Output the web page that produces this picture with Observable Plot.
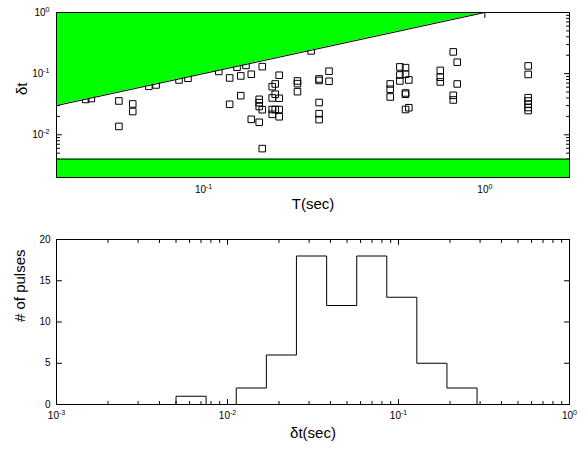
<!DOCTYPE html>
<html><head><meta charset="utf-8">
<script src="https://cdn.jsdelivr.net/npm/d3@7"></script>
<script src="https://cdn.jsdelivr.net/npm/@observablehq/plot@0.6"></script>
<style>
body{margin:0;background:#fff;font-family:"Liberation Sans",Arial,sans-serif;}
#chart{width:585px;height:454px;overflow:hidden;}
svg{display:block;}
</style></head><body><div id="chart"></div>
<script>
// ---- Data ----
// Top panel: T (sec) vs. delta-t (sec)
const pulseT = [0.0381,0.0399,0.0500,0.0560,0.0560,0.0500,0.0639,0.0678,0.0818,0.0880,
  0.1133,0.1238,0.1315,0.1356,0.1415,0.1478,0.1617,0.1238,0.1356,0.1577,
  0.1577,0.1577,0.1617,0.1478,0.1577,0.1617,0.1857,0.1798,0.1754,0.1798,
  0.1754,0.1857,0.1754,0.1798,0.1857,0.1754,0.1857,0.2157,0.2157,0.2157,
  0.2412,0.2575,0.2575,0.2793,0.2793,0.2575,0.2575,0.2575,0.4609,0.4609,
  0.4609,0.4988,0.5225,0.4988,0.5225,0.4988,0.5368,0.5225,0.5225,0.5225,
  0.5368,0.6943,0.6943,0.6943,0.7721,0.7977,0.7977,0.7721,0.7721,1.426,
  1.426,1.426,1.426,1.426,1.426,1.426];
const pulseDt = [0.0378,0.0392,0.0357,0.0319,0.0240,0.0137,0.0621,0.0653,0.0788,0.0841,
  0.1087,0.0850,0.1273,0.0917,0.1363,0.0977,0.1302,0.0315,0.0436,0.0380,
  0.0335,0.0290,0.0257,0.0179,0.0160,0.00594,0.0941,0.0678,0.0612,0.0460,
  0.0400,0.0395,0.0259,0.0259,0.0259,0.0216,0.0197,0.0759,0.0686,0.0507,
  0.2355,0.0819,0.0773,0.1095,0.0750,0.0337,0.0221,0.0177,0.0678,0.0555,
  0.0415,0.1288,0.1254,0.0952,0.0977,0.0759,0.0788,0.0483,0.0460,0.0259,
  0.0277,0.1129,0.0873,0.0731,0.2268,0.1538,0.0678,0.0442,0.0371,0.1337,
  0.0970,0.0404,0.0357,0.0315,0.0279,0.0249];
const limitT = [0.03, 1];          // excluded region above the line δt = T
const bandDt = [0.002, 0.004];     // excluded band at small δt
const topXDomain = [0.03, 2];
const topYDomain = [0.002, 1];
const topXLabels = [0.1, 1];
const topYLabels = [0.01, 0.1, 1];
const topXTitle = "T(sec)";
const topYTitle = "δt";

// Bottom panel: histogram of δt
const histEdges = [0.005, 0.0075, 0.01125, 0.016875, 0.0253, 0.038, 0.057, 0.0854, 0.128, 0.192, 0.288];
const histCounts = [1, 0, 2, 6, 18, 12, 18, 13, 5, 2];
const botXDomain = [0.001, 1];
const botYDomain = [0, 20];
const botXLabels = [0.001, 0.01, 0.1, 1];
const botYLabels = [0, 5, 10, 15, 20];
const botXTitle = "δt(sec)";
const botYTitle = "# of pulses";

// ---- helpers ----
const GREEN = "#00ff00";
const FONT = "Liberation Sans, Arial, Helvetica, sans-serif";
const tickShape = {draw(ctx, l) { ctx.moveTo(0, 0); ctx.lineTo(0, -l); }};
function minorLog(lo, hi) {
  const out = [];
  for (let e = Math.floor(Math.log10(lo)); e <= Math.ceil(Math.log10(hi)); e++)
    for (let m = 1; m <= 9; m++) { const v = m * Math.pow(10, e); if (v >= lo * 0.9999 && v <= hi * 1.0001) out.push(v); }
  return out;
}
function isMajor(v) { const l = Math.log10(v); return Math.abs(l - Math.round(l)) < 1e-6; }
function tickMarks(values, side, len) {
  const opts = {length: len, anchor: "start", shape: tickShape, stroke: "black", strokeWidth: 1};
  if (side === "bottom") return Plot.vector(values, {...opts, x: d => d, frameAnchor: "bottom", rotate: 0});
  if (side === "top") return Plot.vector(values, {...opts, x: d => d, frameAnchor: "top", rotate: 180});
  if (side === "left") return Plot.vector(values, {...opts, y: d => d, frameAnchor: "left", rotate: 90});
  return Plot.vector(values, {...opts, y: d => d, frameAnchor: "right", rotate: -90});
}
const pow10 = d => "10^" + Math.round(Math.log10(d));

function superscripts(svg) {
  d3.select(svg).selectAll("text").each(function () {
    const t = this.textContent;
    const m = /^10\^(-?\d+)$/.exec(t);
    if (!m) return;
    const sel = d3.select(this);
    sel.selectAll("*").remove();
    sel.text("10");
    sel.append("tspan").attr("dy", "-0.55em").attr("font-size", "7px").text(m[1]);
  });
}

const chartDiv = document.getElementById("chart");

// ---- top panel ----
const pulses = pulseT.map((t, i) => ({T: t, dt: pulseDt[i]}));
const topMinorX = minorLog(topXDomain[0], topXDomain[1]);
const topMinorY = minorLog(topYDomain[0], topYDomain[1]);
const topPlot = Plot.plot({
  width: 585, height: 220,
  marginLeft: 56, marginRight: 16, marginTop: 12, marginBottom: 43,
  x: {type: "log", domain: topXDomain, axis: null},
  y: {type: "log", domain: topYDomain, axis: null},
  style: {fontFamily: FONT, fontSize: "10px", background: "white", color: "black"},
  marks: [
    tickMarks(topMinorX.filter(v => !isMajor(v)), "bottom", 3),
    tickMarks(topMinorX.filter(isMajor), "bottom", 5),
    tickMarks(topMinorX.filter(v => !isMajor(v)), "top", 3),
    tickMarks(topMinorX.filter(isMajor), "top", 5),
    tickMarks(topMinorY.filter(v => !isMajor(v)), "left", 3),
    tickMarks(topMinorY.filter(isMajor), "left", 5),
    tickMarks(topMinorY.filter(v => !isMajor(v)), "right", 3),
    tickMarks(topMinorY.filter(isMajor), "right", 5),
    Plot.dot(pulses, {x: "T", y: "dt", symbol: "square", r: 3.7, stroke: "black", fill: "none", strokeWidth: 1}),
    Plot.areaY(limitT, {x: d => d, y1: d => d, y2: () => topYDomain[1], fill: GREEN}),
    Plot.line(limitT, {x: d => d, y: d => d, stroke: "black", strokeWidth: 1}),
    Plot.rect([bandDt], {x1: () => topXDomain[0], x2: () => topXDomain[1], y1: d => d[0], y2: d => d[1], fill: GREEN}),
    Plot.ruleY([bandDt[1]], {stroke: "black", strokeWidth: 1}),
    Plot.frame({stroke: "black", strokeWidth: 1}),
    Plot.text(topXLabels, {x: d => d, frameAnchor: "bottom", dy: 15, text: pow10, fontSize: 10}),
    Plot.text(topYLabels, {y: d => d, frameAnchor: "left", dx: -7, textAnchor: "end", text: pow10, fontSize: 10}),
    Plot.text([topXTitle], {frameAnchor: "bottom", dy: 31, text: d => d, fontSize: 15}),
    Plot.text([topYTitle], {frameAnchor: "left", dx: -34, rotate: -90, text: d => d, fontSize: 15})
  ]
});
superscripts(topPlot);
chartDiv.appendChild(topPlot);

// ---- bottom panel ----
const steps = [{x: histEdges[0], y: 0}];
histCounts.forEach((c, i) => steps.push({x: histEdges[i], y: c}));
steps.push({x: histEdges[histEdges.length - 1], y: 0});
const botMinorX = minorLog(botXDomain[0], botXDomain[1]);
const bottomPlot = Plot.plot({
  width: 585, height: 234,
  marginLeft: 56, marginRight: 16, marginTop: 19, marginBottom: 50,
  x: {type: "log", domain: botXDomain, axis: null},
  y: {type: "linear", domain: botYDomain, axis: null},
  style: {fontFamily: FONT, fontSize: "10px", background: "white", color: "black"},
  marks: [
    tickMarks(botMinorX.filter(v => !isMajor(v)), "bottom", 3),
    tickMarks(botMinorX.filter(isMajor), "bottom", 5),
    tickMarks(botMinorX.filter(v => !isMajor(v)), "top", 3),
    tickMarks(botMinorX.filter(isMajor), "top", 5),
    tickMarks(botYLabels, "left", 5),
    tickMarks(botYLabels, "right", 5),
    Plot.line(steps, {x: "x", y: "y", curve: "step-after", stroke: "black", strokeWidth: 1}),
    Plot.frame({stroke: "black", strokeWidth: 1}),
    Plot.text(botXLabels, {x: d => d, frameAnchor: "bottom", dy: 14, text: pow10, fontSize: 10}),
    Plot.text(botYLabels, {y: d => d, frameAnchor: "left", dx: -6, textAnchor: "end", text: d => String(d), fontSize: 10}),
    Plot.text([botXTitle], {frameAnchor: "bottom", dy: 33, text: d => d, fontSize: 15}),
    Plot.text([botYTitle], {frameAnchor: "left", dx: -36, rotate: -90, text: d => d, fontSize: 15})
  ]
});
superscripts(bottomPlot);
chartDiv.appendChild(bottomPlot);
</script>
</body></html>
